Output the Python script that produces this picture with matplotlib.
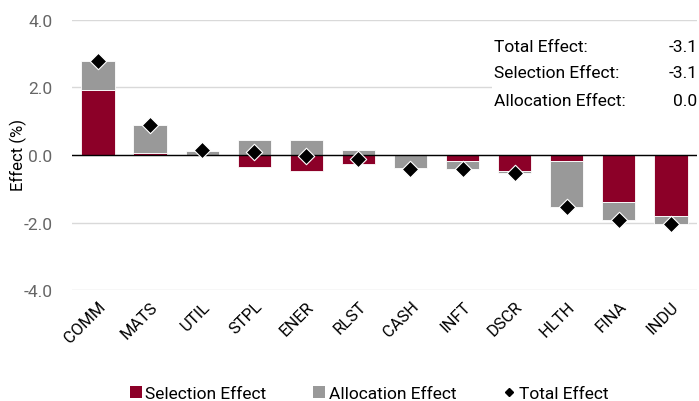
import matplotlib.pyplot as plt
import numpy as np
from matplotlib.lines import Line2D
from matplotlib.patches import Patch

plt.rcParams['font.family'] = ['Roboto', 'DejaVu Sans']

categories = ['COMM', 'MATS', 'UTIL', 'STPL', 'ENER', 'RLST', 'CASH', 'INFT', 'DSCR', 'HLTH', 'FINA', 'INDU']
selection = [1.91, 0.05, 0.0, -0.37, -0.48, -0.28, 0.0, -0.17, -0.48, -0.17, -1.38, -1.80]
allocation = [0.88, 0.85, 0.13, 0.44, 0.44, 0.15, -0.39, -0.25, -0.06, -1.37, -0.54, -0.25]
total = [2.78, 0.90, 0.14, 0.08, -0.04, -0.12, -0.41, -0.42, -0.54, -1.55, -1.92, -2.05]
summary_labels = ['Total Effect:', 'Selection Effect:', 'Allocation Effect:']
summary_values = ['-3.1', '-3.1', '0.0']

red = '#8c0028'
grey = '#999999'

fig = plt.figure(figsize=(6.99, 4.02), dpi=100)
ax = fig.add_axes([0.103, 0.276, 0.894, 0.672])

x = np.arange(len(categories))
sel = np.array(selection)
alloc = np.array(allocation)
# stack allocation on top of selection only when signs match
alloc_bottom = np.where(np.sign(sel) == np.sign(alloc), sel, 0.0)

ax.bar(x, sel, width=0.64, color=red, edgecolor='white', linewidth=0.6, zorder=2)
ax.bar(x, alloc, width=0.64, bottom=alloc_bottom, color=grey, edgecolor='white', linewidth=0.6, zorder=2)
ax.scatter(x, total, marker='D', s=70, color='black', edgecolor='white', linewidth=0.8, zorder=4)

ax.axhline(0, color='black', linewidth=1.0, zorder=3)
ax.set_ylim(-4, 4)
ax.set_xlim(-0.5, len(categories) - 0.5)
ax.set_yticks([-4, -2, 0, 2, 4])
ax.set_yticklabels([f'{v:.1f}' for v in [-4, -2, 0, 2, 4]], color='#666666', fontsize=12.5)
ax.yaxis.grid(True, color='#d9d9d9', linewidth=1.0, zorder=0)
ax.set_axisbelow(True)
ax.set_xticks(x)
ax.set_xticklabels(categories, rotation=45, ha='right', rotation_mode='anchor', fontsize=12)
ax.tick_params(axis='x', length=0, pad=6)
ax.tick_params(axis='y', length=0, pad=14)
for s in ax.spines.values():
    s.set_visible(False)
fig.text(18 / 699, 0.614, 'Effect (%)', rotation=90, ha='center', va='center', fontsize=12)

# summary box
fig.patches.append(plt.Rectangle((0.704, 0.73), 0.296, 0.21, transform=fig.transFigure,
                                 facecolor='white', edgecolor='none', zorder=5))
for i, (lab, val) in enumerate(zip(summary_labels, summary_values)):
    yy = 1 - (47 + 27 * i) / 402
    fig.text(0.707, yy, lab, ha='left', va='center', fontsize=12.5, zorder=6)
    fig.text(0.998, yy, val, ha='right', va='center', fontsize=12.5, zorder=6)

handles = [Patch(facecolor=red, label='Selection Effect'),
           Patch(facecolor=grey, label='Allocation Effect'),
           Line2D([], [], marker='D', color='black', linestyle='none', markersize=4.5, label='Total Effect')]
fig.legend(handles=handles, loc='center', bbox_to_anchor=(0.528, 0.018), ncol=3, frameon=False,
           fontsize=12.5, handlelength=0.7, handleheight=0.7, handletextpad=0.2, columnspacing=2.7)

fig.savefig('out.png', dpi=100)
